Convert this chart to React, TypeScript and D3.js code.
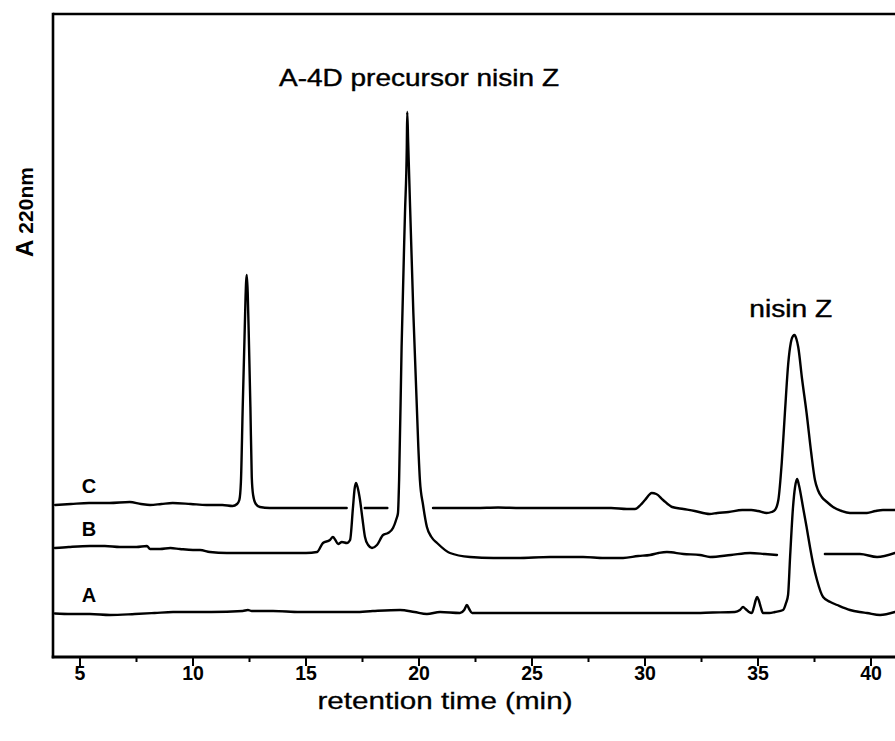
import React from "react";
import * as d3 from "d3";

// ---------- data (retention time in min, absorbance in arbitrary units) ----------
const xTicks = [5, 10, 15, 20, 25, 30, 35, 40];
const xMinorTicks = [7.5, 12.5, 17.5, 22.5, 27.5, 32.5, 37.5];

type Pt = [number, number | null];

// trace C (top)
const traceC: Pt[] = [
  [3.9, 152], [4.6, 153], [5.4, 154], [6.3, 154], [7.2, 155], [7.7, 153], [8.1, 152], [8.6, 153],
  [9.1, 154], [9.9, 153], [10.6, 152], [11.3, 152], [11.75, 151], [11.95, 153], [12.05, 157],
  [12.12, 175], [12.2, 250], [12.28, 320], [12.35, 375], [12.38, 382], [12.42, 365], [12.48, 310],
  [12.54, 250], [12.6, 180], [12.66, 162], [12.78, 153], [12.96, 150], [13.4, 149], [14.5, 149],
  [15.5, 149], [16.3, 149], [16.8, 149], [16.85, null], [17.6, 149], [18.1, 149], [18.6, 149],
  [18.65, null], [20.62, 149], [21.5, 149], [22.5, 149], [23.5, 149.5], [24.5, 149], [25.5, 149],
  [26.5, 149], [27.5, 149], [28.5, 149], [29.2, 148], [29.56, 148], [29.8, 152], [30.0, 157],
  [30.3, 164], [30.5, 163], [30.8, 157], [31.2, 150], [31.7, 148], [32.2, 146], [32.86, 143],
  [33.2, 144], [33.7, 145], [34.3, 147], [34.7, 147], [35.0, 146], [35.38, 144], [35.6, 145],
  [35.75, 147], [35.9, 157], [36.05, 194], [36.19, 244], [36.34, 294], [36.45, 314], [36.55, 321],
  [36.62, 322], [36.7, 318], [36.78, 310], [36.95, 278], [37.15, 244], [37.35, 205], [37.52, 177],
  [37.65, 167], [37.82, 160], [38.05, 155], [38.32, 150], [38.7, 146], [39.07, 144], [39.5, 144],
  [39.82, 144], [40.2, 146], [40.53, 147], [41.06, 147],
];

// trace B (middle)
const traceB: Pt[] = [
  [3.89, 109], [4.5, 110], [5.44, 111], [6.1, 111], [6.77, 110], [7.5, 110], [7.96, 111], [8.1, 108],
  [8.54, 108], [9.0, 109], [9.42, 108], [10.0, 107], [10.31, 107], [10.75, 105], [11.5, 104],
  [12.52, 104], [13.5, 104], [14.29, 104], [15.0, 104], [15.49, 105], [15.75, 114], [16.06, 117],
  [16.19, 120], [16.3, 117], [16.42, 113], [16.59, 115], [16.81, 114], [16.95, 117], [17.08, 150],
  [17.15, 168], [17.21, 174], [17.28, 170], [17.39, 157], [17.5, 138], [17.61, 120], [17.75, 112],
  [17.92, 109], [18.14, 112], [18.41, 122], [18.63, 124], [18.85, 129], [19.0, 138], [19.07, 144],
  [19.12, 177], [19.23, 310], [19.38, 444], [19.46, 510], [19.48, 545], [19.52, 515], [19.57, 477],
  [19.75, 344], [19.97, 210], [20.04, 177], [20.18, 152], [20.35, 130], [20.55, 120], [20.8, 114],
  [21.37, 104], [22.26, 100], [23.3, 99], [24.34, 99], [25.8, 100], [27.26, 100], [28.2, 99],
  [29.03, 99], [29.7, 101], [30.22, 102], [30.6, 104], [30.97, 105], [31.7, 103], [32.43, 102],
  [32.88, 100], [33.8, 102], [34.65, 104], [35.3, 103], [35.84, 102], [35.9, null], [37.96, 103],
  [38.7, 103], [39.51, 103], [40.27, 100], [41.06, 104],
];

// trace A (bottom)
const traceA: Pt[] = [
  [3.89, 43.5], [4.6, 43], [5.44, 43], [6.33, 42], [7.43, 43], [8.3, 44], [9.12, 45], [10.8, 45],
  [12.2, 46], [12.43, 47], [12.6, 46], [13.54, 46], [14.73, 45], [16.0, 45], [17.17, 45],
  [17.96, 46], [19.16, 47], [19.8, 45], [20.35, 43], [20.93, 45], [21.81, 44], [22.0, 47],
  [22.12, 52], [22.22, 48], [22.35, 44], [23.5, 44], [24.47, 44], [26.3, 44], [28.01, 44],
  [30.0, 44], [31.99, 44], [33.0, 44.5], [33.98, 45], [34.2, 47], [34.34, 50], [34.45, 48],
  [34.6, 45], [34.73, 44], [34.82, 50], [34.9, 57], [34.96, 60], [35.03, 57], [35.12, 50],
  [35.22, 44], [35.5, 44], [35.75, 45], [36.11, 47], [36.24, 54], [36.33, 62], [36.42, 100],
  [36.55, 150], [36.64, 170], [36.73, 178], [36.81, 172], [36.99, 150], [37.15, 130], [37.3, 110],
  [37.45, 92], [37.61, 77], [37.88, 60], [38.2, 55], [38.5, 52], [39.07, 47], [39.5, 45],
  [39.82, 44], [40.4, 42], [41.06, 45],
];

const traces = [
  { name: "A", data: traceA },
  { name: "B", data: traceB },
  { name: "C", data: traceC },
];

const peakLabels = [
  { text: "A-4D precursor nisin Z", t: 20.0, trace: "B" },
  { text: "nisin Z", t: 36.45, trace: "C" },
];

// ---------- layout ----------
const W = 895;
const H = 741;
const frameLeft = 53;
const frameTop = 14;
const axisY = 657;

const x = d3.scaleLinear().domain([5, 40]).range([80, 871]);
const y = d3.scaleLinear().domain([0, 643]).range([axisY, frameTop]);

const line = d3
  .line<Pt>()
  .defined((d) => d[1] !== null)
  .x((d) => x(d[0]))
  .y((d) => y(d[1] as number))
  .curve(d3.curveMonotoneX);

const FONT = "'Liberation Sans', Arial, Helvetica, sans-serif";

const localMax = (name: string, t: number) => {
  const tr = traces.find((d) => d.name === name)!;
  return d3.max(tr.data, (d) => (d[1] === null || Math.abs(d[0] - t) > 1 ? 0 : d[1])) as number;
};

export default function App() {
  return (
    <svg
      width={W}
      height={H}
      viewBox={`0 0 ${W} ${H}`}
      style={{ position: "absolute", left: 0, top: 0, background: "#fff" }}
    >
      <rect x={0} y={0} width={W} height={H} fill="#fff" />
      {/* frame */}
      <line x1={frameLeft} y1={frameTop} x2={W} y2={frameTop} stroke="#000" strokeWidth={2.6} />
      <line x1={frameLeft} y1={frameTop - 1.3} x2={frameLeft} y2={axisY + 1.3} stroke="#000" strokeWidth={2.6} />
      <line x1={frameLeft - 1.3} y1={axisY} x2={W} y2={axisY} stroke="#000" strokeWidth={2.8} />
      {/* ticks */}
      {xTicks.map((t) => (
        <g key={"M" + t}>
          <line x1={x(t)} x2={x(t)} y1={axisY} y2={axisY + 9} stroke="#000" strokeWidth={2} />
          <text
            x={x(t)}
            y={axisY + 23}
            textAnchor="middle"
            fontFamily={FONT}
            fontWeight="bold"
            fontSize={19.5}
            fill="#000"
          >
            {t}
          </text>
        </g>
      ))}
      {xMinorTicks.map((t) => (
        <line key={"m" + t} x1={x(t)} x2={x(t)} y1={axisY} y2={axisY + 5} stroke="#000" strokeWidth={2} />
      ))}
      {/* traces */}
      {traces.map((tr) => (
        <path
          key={tr.name}
          d={line(tr.data) || ""}
          fill="none"
          stroke="#000"
          strokeWidth={2.4}
          strokeLinejoin="round"
          strokeLinecap="round"
        />
      ))}
      {/* trace letters */}
      {traces.map((tr) => (
        <text
          key={"l" + tr.name}
          x={x(5.4)}
          y={y(tr.data[0][1] as number) - 12}
          textAnchor="middle"
          fontFamily={FONT}
          fontWeight="bold"
          fontSize={20}
          fill="#000"
        >
          {tr.name}
        </text>
      ))}
      {/* peak labels */}
      {peakLabels.map((p, i) => (
        <text
          key={"p" + i}
          x={x(p.t)}
          y={y(localMax(p.trace, p.t)) - (i === 0 ? 26 : 18)}
          textAnchor="middle"
          fontFamily={FONT}
          fontSize={i === 0 ? 24 : 23}
          textLength={i === 0 ? 280 : 83}
          lengthAdjust="spacingAndGlyphs"
          fill="#000"
          stroke="#000"
          strokeWidth={0.4}
        >
          {p.text}
        </text>
      ))}
      {/* axis titles */}
      <text
        x={445}
        y={709}
        textAnchor="middle"
        fontFamily={FONT}
        fontSize={24}
        textLength={255}
        lengthAdjust="spacingAndGlyphs"
        fill="#000"
        stroke="#000"
        strokeWidth={0.3}
      >
        retention time (min)
      </text>
      <text
        transform="translate(33,257) rotate(-90)"
        fontFamily={FONT}
        fontWeight="bold"
        fill="#000"
      >
        <tspan fontSize={24}>A</tspan>
        <tspan fontSize={21} dx={6}>220nm</tspan>
      </text>
    </svg>
  );
}
